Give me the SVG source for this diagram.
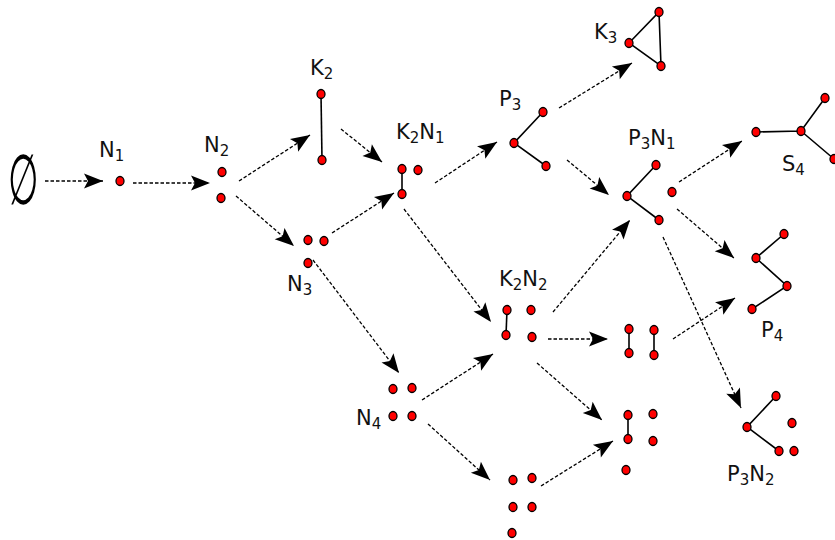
<svg xmlns="http://www.w3.org/2000/svg" width="835" height="540" viewBox="0 0 835 540">
<defs>
<marker id="ah" markerUnits="userSpaceOnUse" viewBox="-20 -9 22 18" refX="0" refY="0" markerWidth="22" markerHeight="18" orient="auto">
<path d="M0,0 L-19,-7.5 L-15,0 L-19,7.5 Z" fill="#000"/>
</marker>
<style>
.v{fill:#ff0000;stroke:#000;stroke-width:1.3}
.e{stroke:#000;stroke-width:1.6;fill:none}
.a{stroke:#000;stroke-width:1.3;stroke-dasharray:3.5 2;fill:none;marker-end:url(#ah)}
.t{font-family:"DejaVu Sans","Liberation Sans",sans-serif;font-size:21px;fill:#111}
.s{font-size:15px}
</style>
</defs>
<rect width="835" height="540" fill="#fff"/>
<g id="empty"><text transform="translate(8,204) scale(0.5,1)" style="font-family:'DejaVu Serif',serif;font-size:70px">∅</text></g>
<g id="connectors">
<line class="a" x1="45" y1="181" x2="103" y2="181"/>
<line class="a" x1="133" y1="183" x2="210" y2="183"/>
<line class="a" x1="239" y1="181" x2="310" y2="135"/>
<line class="a" x1="236" y1="196" x2="294" y2="246"/>
<line class="a" x1="341" y1="129" x2="382" y2="162"/>
<line class="a" x1="332" y1="233" x2="394" y2="193"/>
<line class="a" x1="435" y1="183" x2="497" y2="142"/>
<line class="a" x1="404" y1="209" x2="491" y2="322"/>
<line class="a" x1="313" y1="260" x2="399" y2="373"/>
<line class="a" x1="559" y1="108" x2="632" y2="63"/>
<line class="a" x1="567" y1="160" x2="609" y2="195"/>
<line class="a" x1="679" y1="182" x2="742" y2="141"/>
<line class="a" x1="677" y1="209" x2="734" y2="258"/>
<line class="a" x1="663" y1="237" x2="741" y2="408"/>
<line class="a" x1="553" y1="312" x2="630" y2="220"/>
<line class="a" x1="548" y1="339" x2="608" y2="339"/>
<line class="a" x1="537" y1="363" x2="602" y2="420"/>
<line class="a" x1="673" y1="339" x2="735" y2="298"/>
<line class="a" x1="422" y1="400" x2="493" y2="354"/>
<line class="a" x1="428" y1="424" x2="490" y2="480"/>
<line class="a" x1="541" y1="486" x2="613" y2="441"/>
</g>
<g id="N1">
<text class="t" x="99" y="157">N<tspan class="s" dy="4">1</tspan></text>
<ellipse class="v" cx="120" cy="181" rx="4" ry="4.5"/>
</g>
<g id="N2">
<text class="t" x="204" y="152">N<tspan class="s" dy="4">2</tspan></text>
<ellipse class="v" cx="222" cy="172" rx="4" ry="4.5"/>
<ellipse class="v" cx="221" cy="198" rx="4" ry="4.5"/>
</g>
<g id="K2">
<text class="t" x="310" y="75">K<tspan class="s" dy="4">2</tspan></text>
<line class="e" x1="321" y1="94" x2="322" y2="160"/>
<ellipse class="v" cx="321" cy="94" rx="4" ry="4.5"/>
<ellipse class="v" cx="322" cy="160" rx="4" ry="4.5"/>
</g>
<g id="N3">
<text class="t" x="287" y="291">N<tspan class="s" dy="4">3</tspan></text>
<ellipse class="v" cx="308" cy="240" rx="4" ry="4.5"/>
<ellipse class="v" cx="324" cy="241" rx="4" ry="4.5"/>
<ellipse class="v" cx="308" cy="263" rx="4" ry="4.5"/>
</g>
<g id="K2N1">
<text class="t" x="396" y="139">K<tspan class="s" dy="4">2</tspan><tspan dy="-4">N</tspan><tspan class="s" dy="4">1</tspan></text>
<line class="e" x1="402" y1="169" x2="402" y2="194"/>
<ellipse class="v" cx="402" cy="169" rx="4" ry="4.5"/>
<ellipse class="v" cx="418" cy="170" rx="4" ry="4.5"/>
<ellipse class="v" cx="402" cy="194" rx="4" ry="4.5"/>
</g>
<g id="P3">
<text class="t" x="499" y="106">P<tspan class="s" dy="4">3</tspan></text>
<path class="e" d="M543,112 L514,143 L546,166"/>
<ellipse class="v" cx="514" cy="143" rx="4" ry="4.5"/>
<ellipse class="v" cx="543" cy="112" rx="4" ry="4.5"/>
<ellipse class="v" cx="546" cy="166" rx="4" ry="4.5"/>
</g>
<g id="K3">
<text class="t" x="594" y="39">K<tspan class="s" dy="4">3</tspan></text>
<path class="e" d="M629,43 L659,12 L661,66 Z"/>
<ellipse class="v" cx="629" cy="43" rx="4" ry="4.5"/>
<ellipse class="v" cx="659" cy="12" rx="4" ry="4.5"/>
<ellipse class="v" cx="661" cy="66" rx="4" ry="4.5"/>
</g>
<g id="P3N1">
<text class="t" x="628" y="145">P<tspan class="s" dy="4">3</tspan><tspan dy="-4">N</tspan><tspan class="s" dy="4">1</tspan></text>
<path class="e" d="M656,165 L627,196 L659,220"/>
<ellipse class="v" cx="627" cy="196" rx="4" ry="4.5"/>
<ellipse class="v" cx="656" cy="165" rx="4" ry="4.5"/>
<ellipse class="v" cx="659" cy="220" rx="4" ry="4.5"/>
<ellipse class="v" cx="672" cy="192" rx="4" ry="4.5"/>
</g>
<g id="S4">
<text class="t" x="782" y="171">S<tspan class="s" dy="4">4</tspan></text>
<path class="e" d="M756,132 L801,131 L825,98 M801,131 L834,159"/>
<ellipse class="v" cx="756" cy="132" rx="4" ry="4.5"/>
<ellipse class="v" cx="801" cy="131" rx="4" ry="4.5"/>
<ellipse class="v" cx="825" cy="98" rx="4" ry="4.5"/>
<ellipse class="v" cx="834" cy="159" rx="4" ry="4.5"/>
</g>
<g id="P4">
<text class="t" x="761" y="337">P<tspan class="s" dy="4">4</tspan></text>
<path class="e" d="M784,234 L756,258 L787,286 L752,309"/>
<ellipse class="v" cx="784" cy="234" rx="4" ry="4.5"/>
<ellipse class="v" cx="756" cy="258" rx="4" ry="4.5"/>
<ellipse class="v" cx="787" cy="286" rx="4" ry="4.5"/>
<ellipse class="v" cx="752" cy="309" rx="4" ry="4.5"/>
</g>
<g id="K2N2">
<text class="t" x="499" y="286">K<tspan class="s" dy="4">2</tspan><tspan dy="-4">N</tspan><tspan class="s" dy="4">2</tspan></text>
<line class="e" x1="507" y1="310" x2="506" y2="335"/>
<ellipse class="v" cx="507" cy="310" rx="4" ry="4.5"/>
<ellipse class="v" cx="531" cy="310" rx="4" ry="4.5"/>
<ellipse class="v" cx="506" cy="335" rx="4" ry="4.5"/>
<ellipse class="v" cx="532" cy="337" rx="4" ry="4.5"/>
</g>
<g id="twoK2">
<line class="e" x1="629" y1="329" x2="629" y2="353"/>
<line class="e" x1="654" y1="330" x2="654" y2="355"/>
<ellipse class="v" cx="629" cy="329" rx="4" ry="4.5"/>
<ellipse class="v" cx="629" cy="353" rx="4" ry="4.5"/>
<ellipse class="v" cx="654" cy="330" rx="4" ry="4.5"/>
<ellipse class="v" cx="654" cy="355" rx="4" ry="4.5"/>
</g>
<g id="N4">
<text class="t" x="356" y="425">N<tspan class="s" dy="4">4</tspan></text>
<ellipse class="v" cx="393" cy="389" rx="4" ry="4.5"/>
<ellipse class="v" cx="412" cy="388" rx="4" ry="4.5"/>
<ellipse class="v" cx="393" cy="416" rx="4" ry="4.5"/>
<ellipse class="v" cx="412" cy="416" rx="4" ry="4.5"/>
</g>
<g id="N5">
<ellipse class="v" cx="513" cy="480" rx="4" ry="4.5"/>
<ellipse class="v" cx="532" cy="478" rx="4" ry="4.5"/>
<ellipse class="v" cx="513" cy="507" rx="4" ry="4.5"/>
<ellipse class="v" cx="532" cy="507" rx="4" ry="4.5"/>
<ellipse class="v" cx="512" cy="533" rx="4" ry="4.5"/>
</g>
<g id="K2N3">
<line class="e" x1="628" y1="415" x2="628" y2="439"/>
<ellipse class="v" cx="628" cy="415" rx="4" ry="4.5"/>
<ellipse class="v" cx="628" cy="439" rx="4" ry="4.5"/>
<ellipse class="v" cx="653" cy="414" rx="4" ry="4.5"/>
<ellipse class="v" cx="653" cy="441" rx="4" ry="4.5"/>
<ellipse class="v" cx="626" cy="470" rx="4" ry="4.5"/>
</g>
<g id="P3N2">
<text class="t" x="727" y="481">P<tspan class="s" dy="4">3</tspan><tspan dy="-4">N</tspan><tspan class="s" dy="4">2</tspan></text>
<path class="e" d="M776,396 L747,427 L779,451"/>
<ellipse class="v" cx="747" cy="427" rx="4" ry="4.5"/>
<ellipse class="v" cx="776" cy="396" rx="4" ry="4.5"/>
<ellipse class="v" cx="779" cy="451" rx="4" ry="4.5"/>
<ellipse class="v" cx="792" cy="423" rx="4" ry="4.5"/>
<ellipse class="v" cx="794" cy="451" rx="4" ry="4.5"/>
</g>
</svg>
